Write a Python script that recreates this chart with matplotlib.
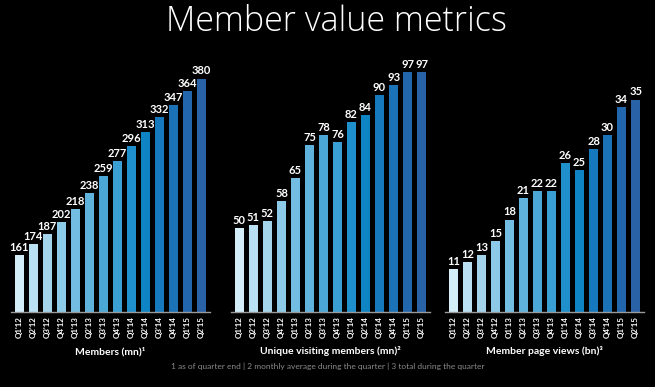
import numpy as np
import matplotlib.pyplot as plt

quarters = ["Q1'12", "Q2'12", "Q3'12", "Q4'12", "Q1'13", "Q2'13", "Q3'13",
            "Q4'13", "Q1'14", "Q2'14", "Q3'14", "Q4'14", "Q1'15", "Q2'15"]
members = [161, 174, 187, 202, 218, 238, 259, 277, 296, 313, 332, 347, 364, 380]
unique_visitors = [50, 51, 52, 58, 65, 75, 78, 76, 82, 84, 90, 93, 97, 97]
page_views = [11, 12, 13, 15, 18, 21, 22, 22, 26, 25, 28, 30, 34, 35]

titles = ["Members (mn)\u00b9", "Unique visiting members (mn)\u00b2",
          "Member page views (bn)\u00b3"]
footnote = "1 as of quarter end | 2 monthly average during the quarter | 3 total during the quarter"

colors = ['#d4eef9', '#b9e0f3', '#a3d4ec', '#8ccae8', '#74bde2', '#5fb2dc',
          '#4aa7d6', '#3a9fd2', '#1f90cb', '#0e84c4', '#1779bd', '#1b72b6',
          '#2267ae', '#2a62a8']

plt.rcParams['font.family'] = ['Lato', 'DejaVu Sans']

fig = plt.figure(figsize=(6.55, 3.87), dpi=100, facecolor='black')
W, H = 655.0, 387.0

# panel geometry in pixels: left, right, and y-limits
panels = [
    (members, 11, 210, (90, 403)),
    (unique_visitors, 231, 430, (24.7, 100.6)),
    (page_views, 445, 644, (4.9, 40.6)),
]

x = np.arange(len(quarters))
for (vals, l, r, ylim), name in zip(panels, titles):
    ax = fig.add_axes([l / W, (387 - 312) / H, (r - l) / W, 252 / H])
    ax.set_facecolor('black')
    ax.bar(x, vals, width=0.7, color=colors)
    for xi, v in zip(x, vals):
        ax.annotate(str(v), (xi, v), xytext=(0, 1.5), textcoords='offset points',
                    ha='center', va='bottom', color='white', fontsize=8,
                    fontweight='bold')
    ax.set_xlim(-0.6, 13.6)
    ax.set_ylim(*ylim)
    ax.set_xticks(x)
    ax.set_xticklabels(quarters, rotation=90, color='white', fontsize=5.8,
                       fontweight='bold')
    ax.tick_params(axis='x', length=0, pad=3)
    ax.set_yticks([])
    for s in ['top', 'left', 'right']:
        ax.spines[s].set_visible(False)
    ax.spines['bottom'].set_color('#9a9a9a')
    ax.spines['bottom'].set_linewidth(1)
    ax.set_xlabel(name, color='white', fontsize=7.5, fontweight='bold', labelpad=6)

fig.text(0.513, 1 - 22 / H, "Member value metrics", ha='center', va='center',
         color='white', fontsize=24.5, fontweight='light',
         family=['Open Sans', 'DejaVu Sans'])
fig.text(0.5, 1 - 366 / H, footnote, ha='center', va='center',
         color='#8a8a8a', fontsize=6)

fig.savefig('out.png', dpi=100, facecolor='black')
